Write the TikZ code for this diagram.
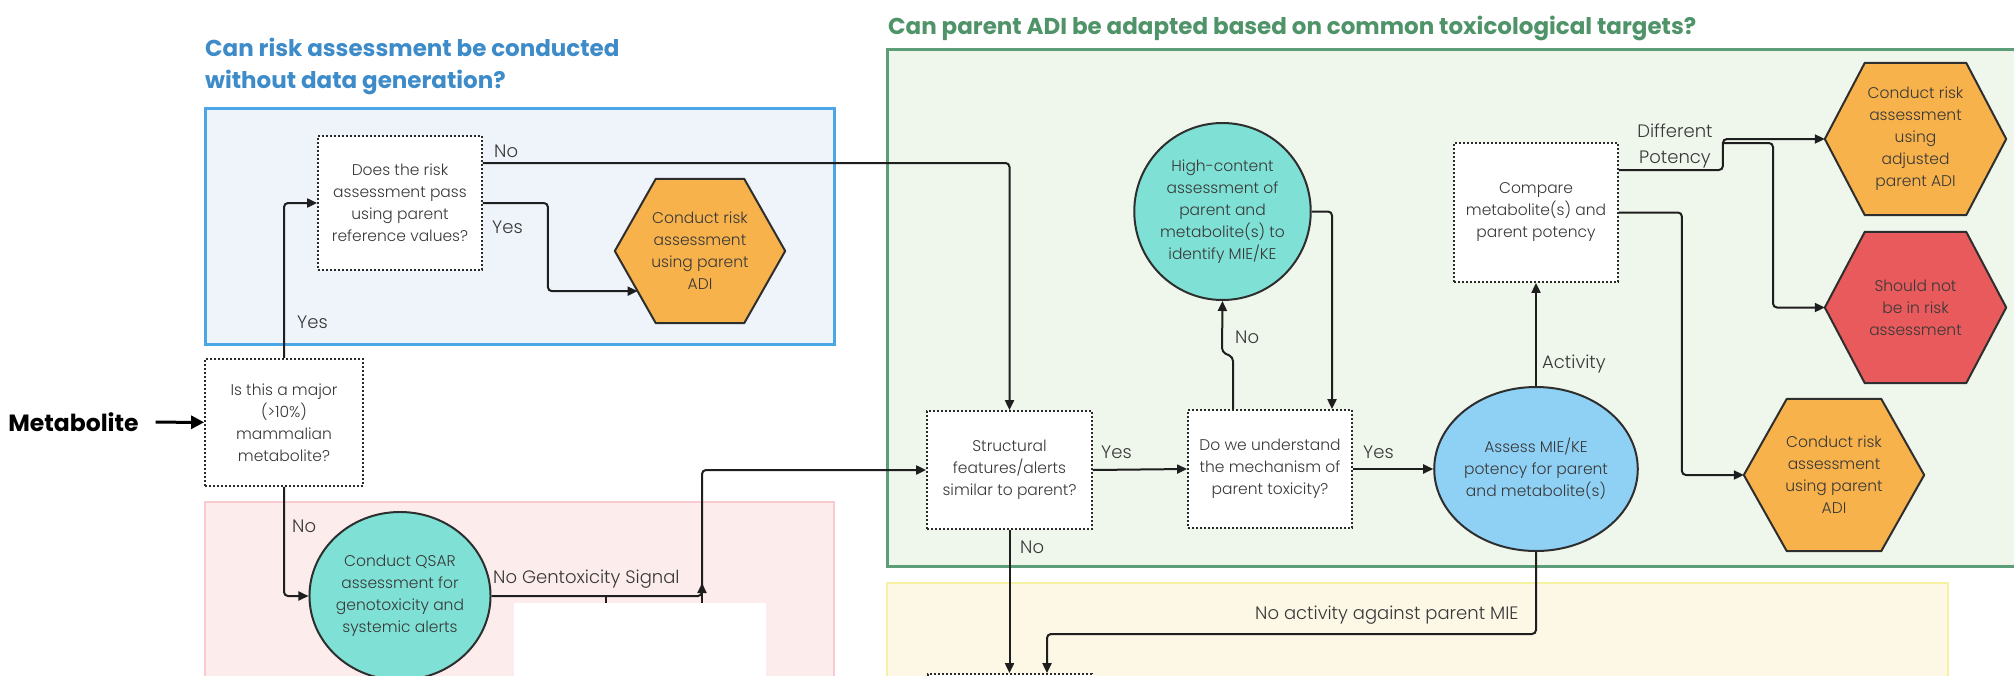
\documentclass[tikz,border=0pt]{standalone}
\usepackage{fontspec}
\setmainfont{Poppins}
\newfontfamily\bodyfont{Poppins Light}
\usetikzlibrary{arrows.meta,calc,shapes.geometric}

\definecolor{ink}{HTML}{383838}
\definecolor{wire}{HTML}{1E1E1E}
\definecolor{dotc}{HTML}{2A2A2A}
\definecolor{hexline}{HTML}{2E2E2E}
\definecolor{bluefill}{HTML}{EEF4FA}
\definecolor{blueline}{HTML}{4AA6E4}
\definecolor{bluetitle}{HTML}{3D8BC9}
\definecolor{pinkfill}{HTML}{FDECEC}
\definecolor{pinkline}{HTML}{F8CBD0}
\definecolor{greenfill}{HTML}{EFF7EC}
\definecolor{greenline}{HTML}{5C9E78}
\definecolor{greentitle}{HTML}{4F9369}
\definecolor{yellowfill}{HTML}{FDF7E6}
\definecolor{yellowline}{HTML}{F6F1A0}
\definecolor{orangefill}{HTML}{F7B24B}
\definecolor{redfill}{HTML}{E85A5C}
\definecolor{tealfill}{HTML}{7FE1D5}
\definecolor{skyfill}{HTML}{8FD1F5}

\pgfdeclarelayer{back}
\pgfdeclarelayer{fills}
\pgfsetlayers{back,fills,main}

% hexagon outline behind a text node: node name, corner inset, fill colour
\newcommand\hexfill[3]{%
  \begin{pgfonlayer}{fills}
    \filldraw[fill=#3, draw=hexline, line width=2pt, line join=round]
      (#1.west) -- ([xshift=#2pt]#1.north west) -- ([xshift=-#2pt]#1.north east)
      -- (#1.east) -- ([xshift=-#2pt]#1.south east) -- ([xshift=#2pt]#1.south west)
      -- cycle;
  \end{pgfonlayer}}

\begin{document}
\begin{tikzpicture}[x=1pt, y=-1pt,
  bodytext/.style={font=\bodyfont\fontsize{15.5}{22}\selectfont, text=ink, align=center, inner sep=0pt},
  qbox/.style={bodytext, draw=dotc, fill=white, line width=1.8pt, dash pattern=on 1.6pt off 2.4pt},
  hexbox/.style={bodytext},
  ellbox/.style={bodytext, ellipse, draw=hexline, line width=2pt},
  lbl/.style={font=\bodyfont\fontsize{18}{22}\selectfont, text=ink, inner sep=0pt, anchor=base west},
  ttl/.style={font=\fontsize{23}{28}\selectfont\bfseries, inner sep=0pt, anchor=base west},
  arr/.style={draw=wire, line width=2pt, rounded corners=4pt, -{Triangle[length=10pt,width=9pt]}},
  bigarr/.style={draw=black, line width=3pt, -{Triangle[length=13pt,width=13pt]}},
  wireline/.style={draw=wire, line width=2pt}]

\useasboundingbox (0,0) rectangle (2014,675);

% section panels
\begin{pgfonlayer}{back}
  \fill[white] (0,0) rectangle (2014,675);
  \filldraw[fill=bluefill, draw=blueline, line width=3pt] (205,108) rectangle (834,344);
  \filldraw[fill=pinkfill, draw=pinkline, line width=2.5pt] (205,502) rectangle (834,720);
  \filldraw[fill=greenfill, draw=greenline, line width=3pt] (887,49) rectangle (2040,566);
  \filldraw[fill=yellowfill, draw=yellowline, line width=2.5pt] (887,583) rectangle (1948,720);
\end{pgfonlayer}

% section titles
\node[ttl, text=bluetitle] (t1a) at (205,56.5) {Can risk assessment be conducted};
\node[ttl, text=bluetitle] (t1b) at (205,88.5) {without data generation?};
\node[ttl, text=greentitle] (t2) at (888,34) {Can parent ADI be adapted based on common toxicological targets?};

% entry
\node[font=\fontsize{23.5}{28}\selectfont\bfseries, text=black, inner sep=0pt, outer xsep=17pt] (meta) at (73.5,422) {Metabolite};

% decision boxes
\node[qbox, minimum width=158, minimum height=127] (major) at (284,422.5)
  {Is this a major\\(>10\%)\\mammalian\\metabolite?};
\node[qbox, minimum width=164, minimum height=134] (does) at (400,203)
  {Does the risk\\assessment pass\\using parent\\reference values?};
\node[qbox, minimum width=165, minimum height=118] (struct) at (1009.5,470)
  {Structural\\features/alerts\\similar to parent?};
\node[qbox, minimum width=164, minimum height=118] (mech) at (1270,469)
  {Do we understand\\the mechanism of\\parent toxicity?};
\node[qbox, minimum width=164, minimum height=139] (compare) at (1536,212.5)
  {Compare\\metabolite(s) and\\parent potency};
\node[qbox, minimum width=164, minimum height=116] (next) at (1010,732) {};

% assessments
\node[ellbox, fill=tealfill, minimum width=152, minimum height=168] (qsar) at (400,596)
  {Conduct QSAR\\assessment for\\genotoxicity and\\systemic alerts};
\node[ellbox, fill=tealfill, minimum width=161, minimum height=177] (high) at (1222.5,211.5)
  {High-content\\assessment of\\parent and\\metabolite(s) to\\identify MIE/KE};
\node[ellbox, fill=skyfill, minimum width=164, minimum height=164] (assess) at (1536,469)
  {Assess MIE/KE\\potency for parent\\and metabolite(s)};

% outcomes
\node[hexbox, minimum width=170, minimum height=144] (hexA) at (700,251)
  {Conduct risk\\assessment\\using parent\\ADI};
\hexfill{hexA}{41}{orangefill}
\node[hexbox, minimum width=181, minimum height=152] (hexB) at (1915.5,139)
  {Conduct risk\\assessment\\using\\adjusted\\parent ADI};
\hexfill{hexB}{40}{orangefill}
\node[hexbox, minimum width=181, minimum height=151] (hexR) at (1915.5,307.5)
  {Should not\\be in risk\\assessment};
\hexfill{hexR}{40}{redfill}
\node[hexbox, minimum width=180, minimum height=152] (hexC) at (1834,475)
  {Conduct risk\\assessment\\using parent\\ADI};
\hexfill{hexC}{43}{orangefill}

% connectors
\draw[bigarr] (meta) -- (major);
\draw[arr] (major.north) |- (does.west);
\node[lbl] (yes1) at (297,328) {Yes};
\draw[arr] (major.south) |- (qsar.west);
\node[lbl] (no1) at (292,532) {No};

\coordinate (hexAin) at ($(hexA.west)!0.556!([xshift=41pt]hexA.south west)$);
\draw[arr] (does.east) -- ++(65,0) |- (hexAin);
\node[lbl] (yes2) at (492,233) {Yes};
\draw[arr] ([yshift=40pt]does.east) -| (struct.north);
\node[lbl] (no2) at (494,157) {No};

\coordinate (bend) at (702,596);
\draw[arr] (qsar.east) -- (bend) |- (struct.west);
\node[lbl] (nogen) at (493,583) {No Gentoxicity Signal};

\draw[arr] (struct.east) -- (mech.west);
\node[lbl] (yes3) at (1101,458) {Yes};
\draw[arr] (mech.east) -- (assess.west);
\node[lbl] (yes4) at (1363,458) {Yes};

\draw[arr] ([xshift=-37pt]mech.north) -- ++(0,-52) -- ++(-11,-5) -- (high.south);
\node[lbl] (no3) at (1235,343) {No};
\draw[arr] (high.east) -| ([xshift=62pt]mech.north);

\draw[arr] (assess.north) -- (compare.south);
\node[lbl] (act) at (1542,368) {Activity};

\draw[arr] ([yshift=42.5pt]compare.east) -- ++(104,0) |- (hexB.west);
\coordinate (split) at (1722,143);
\draw[arr] (split) -- ++(51,0) |- (hexR.west);
\node[lbl, anchor=base] (diff1) at (1675,137) {Different};
\node[lbl, anchor=base] (diff2) at (1675,163) {Potency};
\draw[arr] (compare.east) -- ++(63,0) |- (hexC.west);

\draw[arr] (struct.south) -- (struct.south |- next.north);
\node[lbl] (no4) at (1020,553) {No};
\draw[arr] (assess.south) -- ++(0,82) -| ([xshift=37pt]next.north);
\node[lbl] (noact) at (1255,619) {No activity against parent MIE};

% blank panel over the lower left
\node[fill=white, inner sep=0pt, minimum width=252, minimum height=80, anchor=north west] (mask) at (514,603) {};
\draw[wireline] ([xshift=92pt]mask.north west) -- ++(0,-7);
\draw[arr] ([xshift=188pt]mask.north west) -- ++(0,-20);
\fill[white] (mask.north west) rectangle (mask.south east);
\end{tikzpicture}
\end{document}
